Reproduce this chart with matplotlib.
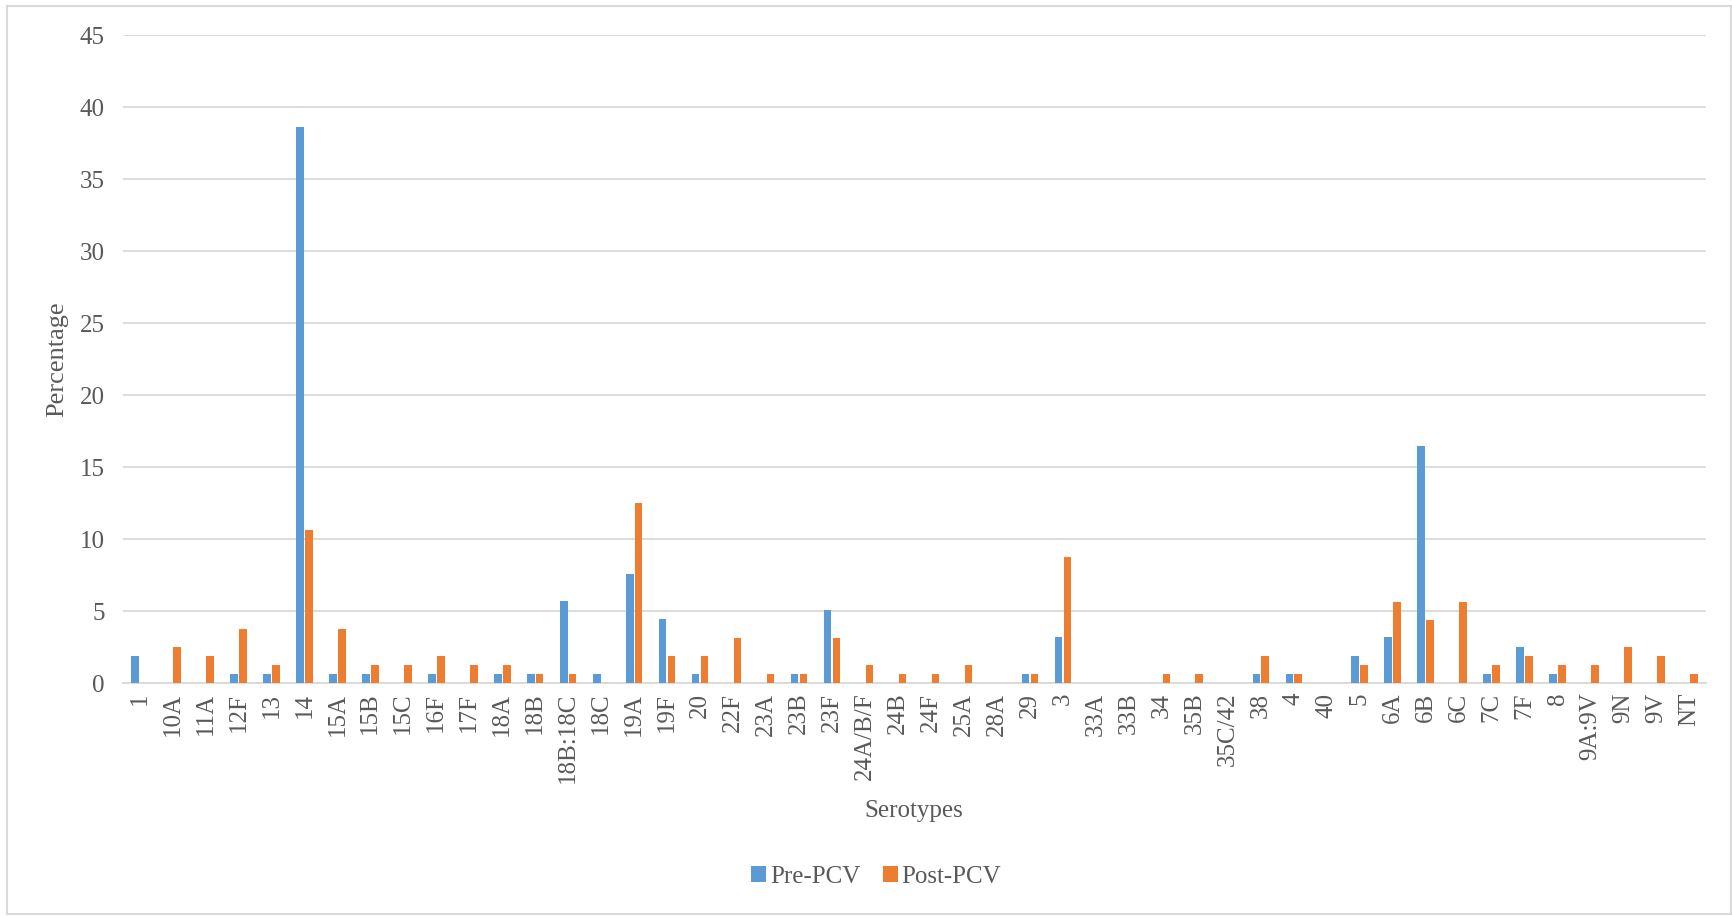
import numpy as np
import matplotlib
matplotlib.use("Agg")
from matplotlib import pyplot as plt
from matplotlib.patches import Rectangle

plt.rcParams['font.family'] = ['Liberation Serif', 'DejaVu Serif']

serotypes = ["1", "10A", "11A", "12F", "13", "14", "15A", "15B", "15C", "16F",
             "17F", "18A", "18B", "18B:18C", "18C", "19A", "19F", "20", "22F",
             "23A", "23B", "23F", "24A/B/F", "24B", "24F", "25A", "28A", "29",
             "3", "33A", "33B", "34", "35B", "35C/42", "38", "4", "40", "5",
             "6A", "6B", "6C", "7C", "7F", "8", "9A:9V", "9N", "9V", "NT"]

pre_pcv = [1.90, 0, 0, 0.63, 0.63, 38.61, 0.63, 0.63, 0, 0.63,
           0, 0.63, 0.63, 5.70, 0.63, 7.59, 4.43, 0.63, 0,
           0, 0.63, 5.06, 0, 0, 0, 0, 0, 0.63,
           3.16, 0, 0, 0, 0, 0, 0.63, 0.63, 0, 1.90,
           3.16, 16.46, 0, 0.63, 2.53, 0.63, 0, 0, 0, 0]

post_pcv = [0, 2.50, 1.88, 3.75, 1.25, 10.63, 3.75, 1.25, 1.25, 1.88,
            1.25, 1.25, 0.63, 0.63, 0, 12.50, 1.88, 1.88, 3.13,
            0.63, 0.63, 3.13, 1.25, 0.63, 0.63, 1.25, 0, 0.63,
            8.75, 0, 0, 0.63, 0.63, 0, 1.88, 0.63, 0, 1.25,
            5.63, 4.38, 5.63, 1.25, 1.88, 1.25, 1.25, 2.50, 1.88, 0.63]

blue = "#5B9BD5"
orange = "#ED7D31"
grey_text = "#595959"
grid_col = "#D9D9D9"
fs = 18

fig = plt.figure(figsize=(17.32, 9.16), dpi=100)
ax = fig.add_axes([123 / 1732, 1 - 683 / 916, (1706 - 123) / 1732, (683 - 35) / 916])

x = np.arange(len(serotypes))
w = 0.23
ax.bar(x - 0.135, pre_pcv, w, color=blue, label="Pre-PCV", zorder=3)
ax.bar(x + 0.135, post_pcv, w, color=orange, label="Post-PCV", zorder=3)

ax.set_xlim(-0.5, len(serotypes) - 0.5)
ax.set_ylim(0, 45)
ax.set_yticks(range(0, 46, 5))
ax.yaxis.grid(True, color=grid_col, linewidth=1.3, zorder=0)
ax.set_axisbelow(True)
for s in ["top", "right", "left"]:
    ax.spines[s].set_visible(False)
ax.spines["bottom"].set_color(grid_col)
ax.spines["bottom"].set_linewidth(1.3)

ax.set_xticks(x)
ax.set_xticklabels(serotypes, rotation=90, fontsize=fs, color=grey_text)
ax.tick_params(axis="x", length=0, pad=7)
ax.tick_params(axis="y", length=0, pad=13, labelsize=fs, labelcolor=grey_text)

fig.text(57 / 1732, 1 - 359 / 916, "Percentage", rotation=90, fontsize=fs + 1,
         color=grey_text, ha="center", va="center")
fig.text(914 / 1732, 1 - 811 / 916, "Serotypes", fontsize=fs,
         color=grey_text, ha="center", va="center")

leg = fig.legend(loc="center", bbox_to_anchor=(876 / 1732, 1 - 877 / 916), ncol=2,
                 frameon=False, fontsize=fs, handlelength=0.6, handleheight=0.6,
                 handletextpad=0.15, columnspacing=0.9)
for t in leg.get_texts():
    t.set_color(grey_text)

# outer chart border
fig.patches.append(Rectangle((7 / 1732, 2 / 916), 1 - 8 / 1732, 1 - 8 / 916,
                             transform=fig.transFigure, fill=False,
                             edgecolor=grid_col, linewidth=1.5))

fig.savefig("out.png", dpi=100)
